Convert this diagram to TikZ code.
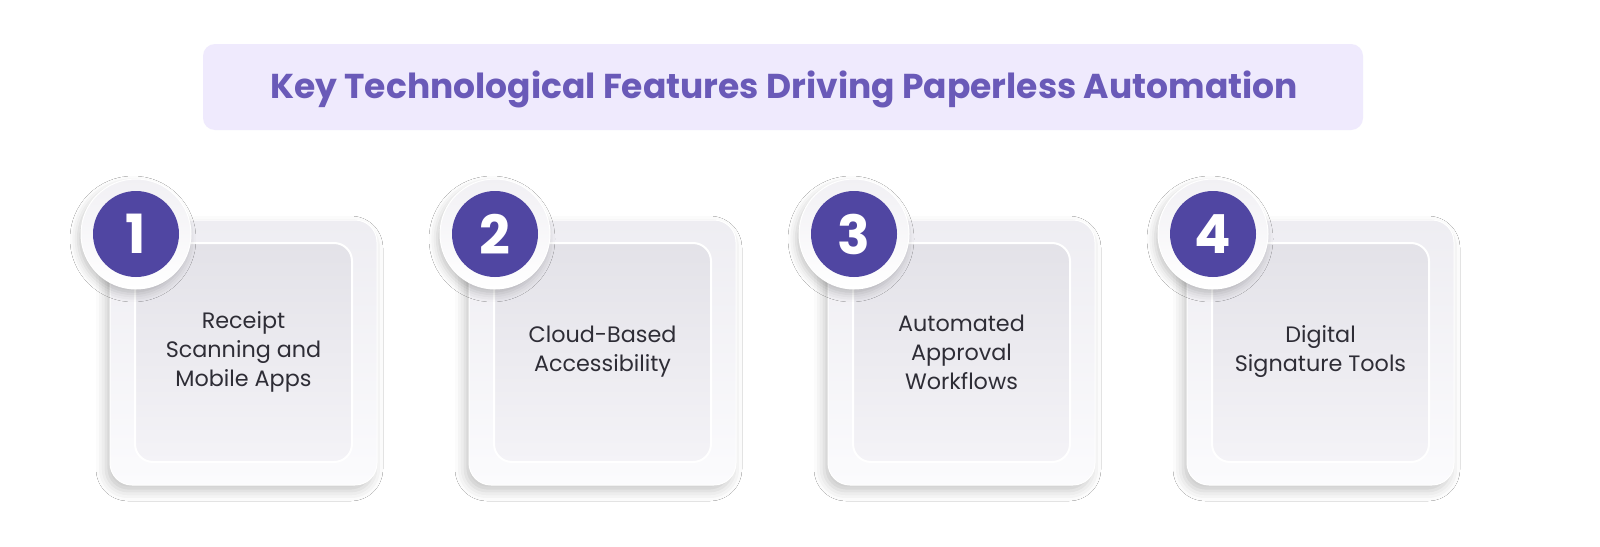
\documentclass[tikz,border=0pt]{standalone}
\usepackage{fontspec}
\setmainfont{Poppins}
\usetikzlibrary{shadows.blur}
\definecolor{titlebg}{HTML}{EFEAFD}
\definecolor{titlefg}{HTML}{6A5AB8}
\definecolor{numbg}{HTML}{5046A2}
\definecolor{cardtop}{HTML}{EEEDF2}
\definecolor{cardbot}{HTML}{FBFBFD}
\definecolor{innertop}{HTML}{E3E2E8}
\definecolor{innerbot}{HTML}{F4F3F7}
\definecolor{ringcol}{HTML}{F1F0F4}
\definecolor{txt}{HTML}{2E2D36}
\tikzset{
  titlebox/.style={rounded corners=12pt, fill=titlebg, draw=none},
  cardouter/.style={rounded corners=22pt, top color=cardtop, bottom color=cardbot, draw=white, line width=1pt,
    blur shadow={shadow xshift=-4pt, shadow yshift=-6pt, shadow blur radius=10pt, shadow opacity=22}},
  cardinner/.style={rounded corners=18pt, top color=innertop, bottom color=innerbot, draw=white, line width=2pt},
  ring/.style={circle, minimum size=110pt, inner sep=0pt, top color=ringcol, bottom color=white, draw=white, line width=1pt,
    blur shadow={shadow xshift=-3pt, shadow yshift=-5pt, shadow blur radius=8pt, shadow opacity=22}},
  numdisc/.style={circle, minimum size=86pt, inner sep=0pt, fill=numbg, text=white, font=\fontsize{54}{54}\selectfont\bfseries},
  cardtext/.style={align=center, text=txt, font=\fontsize{22.3}{29}\selectfont},
}
\begin{document}
\begin{tikzpicture}[x=1pt,y=-1pt]
\useasboundingbox (0,0) rectangle (1600,546);
\fill[white] (0,0) rectangle (1600,546);
\path[titlebox] (203,44) rectangle (1363,130);
\node[text=titlefg, font=\fontsize{34.5}{34.5}\selectfont\bfseries] (title) at (784,89) {Key Technological Features Driving Paperless Automation};
\foreach \i/\lbl [count=\n] in {0/{Receipt\\Scanning and\\Mobile Apps},1/{Cloud-Based\\Accessibility},2/{Automated\\Approval\\Workflows},3/{Digital\\Signature Tools}} {
  \pgfmathsetmacro{\dx}{359*\i}
  \begin{scope}[xshift=\dx pt]
    \path[cardouter] (110,220) rectangle (377,485);
    \path[cardinner] (135,243) rectangle (352,462);
    \node[cardtext] (text\n) at (243.5,352) {\lbl};
    \node[ring] (ring\n) at (136,234) {};
    \node[numdisc] (num\n) at (136,234) {\n};
  \end{scope}
}
\end{tikzpicture}
\end{document}
